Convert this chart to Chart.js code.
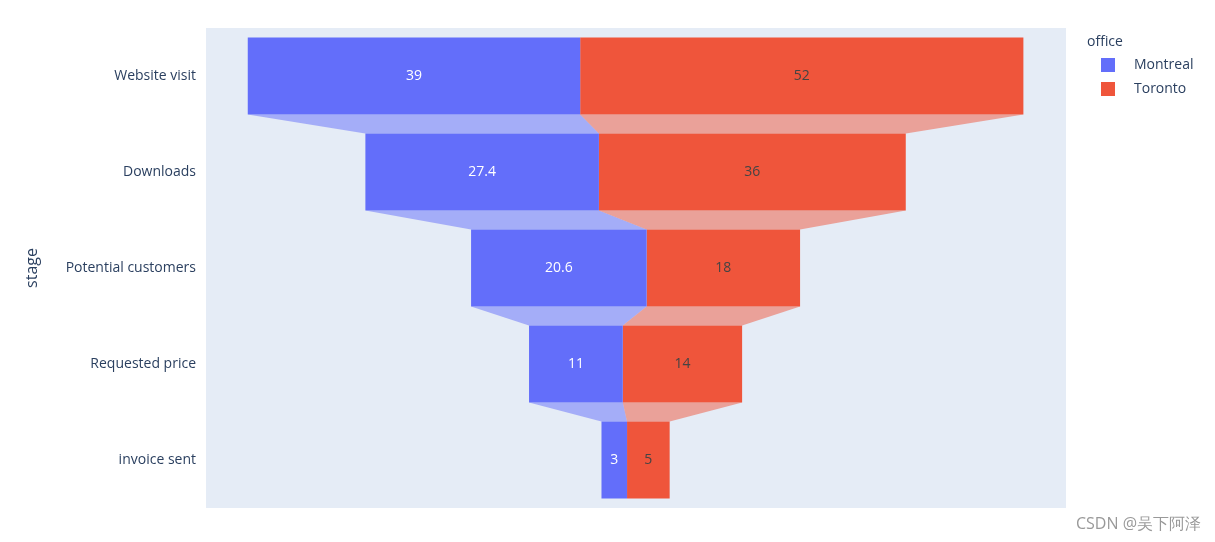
<!DOCTYPE html>
<html><head><meta charset="utf-8">
<script src="https://cdn.jsdelivr.net/npm/chart.js@4"></script>
<style>html,body{margin:0;padding:0;background:#fff}#w{width:1215px;height:542px}</style>
</head><body><div id="w"><canvas id="c"></canvas></div>
<script>
const stages = ["Website visit","Downloads","Potential customers","Requested price","invoice sent"];
const montreal = [39, 27.4, 20.6, 11, 3];
const toronto = [52, 36, 18, 14, 5];
const seriesNames = ["Montreal","Toronto"];
const colors = ["#636efa","#ef553b"];
const connColors = ["rgba(99,110,250,0.5)","rgba(239,85,59,0.5)"];
const labelColors = ["#ffffff","#444444"];
const FONT = '"Open Sans", "Noto Sans", sans-serif';

const totals = stages.map((_,i)=>montreal[i]+toronto[i]);
const mData = stages.map((_,i)=>[-totals[i]/2, -totals[i]/2+montreal[i]]);
const tData = stages.map((_,i)=>[-totals[i]/2+montreal[i], totals[i]/2]);
const raw = [montreal, toronto];

const plug = {
  id:'funnel',
  beforeDatasetsDraw(ch){
    const {ctx, chartArea:a} = ch;
    ctx.save();
    ctx.fillStyle = '#e5ecf6';
    ctx.fillRect(a.left,a.top,a.right-a.left,a.bottom-a.top);
    [0,1].forEach(d=>{
      const els = ch.getDatasetMeta(d).data;
      ctx.fillStyle = connColors[d];
      for(let i=0;i<els.length-1;i++){
        const e1=els[i], e2=els[i+1];
        const y1=e1.y+e1.height/2, y2=e2.y-e2.height/2;
        ctx.beginPath();
        ctx.moveTo(e1.base,y1); ctx.lineTo(e1.x,y1);
        ctx.lineTo(e2.x,y2); ctx.lineTo(e2.base,y2);
        ctx.closePath(); ctx.fill();
      }
    });
    ctx.restore();
  },
  afterDatasetsDraw(ch){
    const ctx = ch.ctx;
    ctx.save();
    ctx.font = '14px '+FONT;
    ctx.textAlign='center'; ctx.textBaseline='middle';
    [0,1].forEach(d=>{
      ch.getDatasetMeta(d).data.forEach((e,i)=>{
        ctx.fillStyle = labelColors[d];
        ctx.fillText(String(raw[d][i]), (e.x+e.base)/2, e.y);
      });
    });
    // y title
    ctx.fillStyle='#2a3f5f';
    ctx.save(); ctx.translate(32,268); ctx.rotate(-Math.PI/2);
    ctx.font='16px '+FONT; ctx.fillText('stage',0,0); ctx.restore();
    // legend
    ctx.textAlign='left';
    ctx.font='14px '+FONT;
    ctx.fillText('office',1087,42);
    seriesNames.forEach((n,k)=>{
      const y=65+k*24;
      ctx.fillStyle=colors[k]; ctx.fillRect(1101,y-7,14,14);
      ctx.fillStyle='#2a3f5f'; ctx.fillText(n,1134,y);
    });
    ctx.fillStyle='#999'; ctx.font='16px '+FONT; ctx.textAlign='right';
    ctx.fillText('CSDN @吴下阿泽',1201,524);
    ctx.restore();
  }
};

new Chart(document.getElementById('c'),{
  type:'bar',
  data:{labels:stages,datasets:[
    {label:seriesNames[0],data:mData,backgroundColor:colors[0],grouped:false,categoryPercentage:1,barPercentage:0.8},
    {label:seriesNames[1],data:tData,backgroundColor:colors[1],grouped:false,categoryPercentage:1,barPercentage:0.8}
  ]},
  options:{
    indexAxis:'y',responsive:true,maintainAspectRatio:false,animation:false,
    layout:{padding:{left:0,right:149,top:28,bottom:34}},
    plugins:{legend:{display:false},tooltip:{enabled:false}},
    scales:{
      x:{type:'linear',min:-50.4,max:50.5,display:false},
      y:{grid:{display:false},border:{display:false},
         ticks:{color:'#2a3f5f',font:{family:FONT,size:14},padding:2},
         afterFit(s){s.width=206;}}
    }
  },
  plugins:[plug]
});
</script></body></html>
